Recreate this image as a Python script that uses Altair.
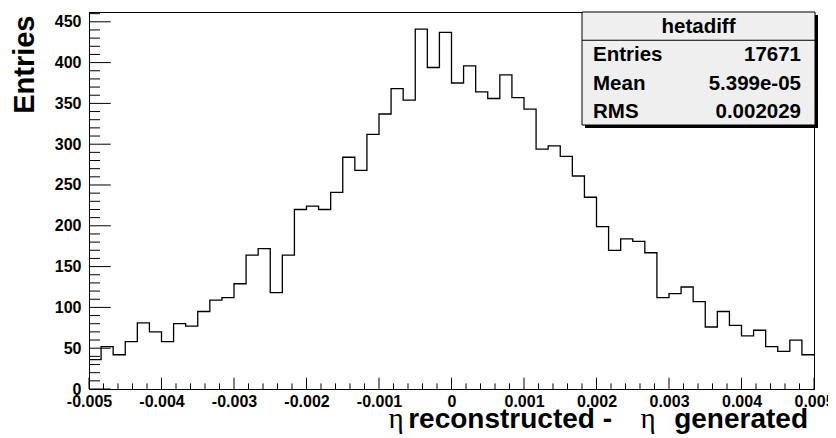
import altair as alt
import numpy as np
import pandas as pd

# ---------------- data ----------------
x_min, x_max, n_bins = -0.005, 0.005, 60
bin_counts = [36, 52, 42, 58, 81, 70, 58, 80, 77, 95,
              109, 112, 129, 164, 172, 118, 164, 220, 224, 220,
              241, 284, 268, 312, 337, 368, 354, 441, 394, 437,
              375, 396, 364, 356, 385, 357, 343, 294, 298, 285,
              261, 235, 199, 170, 184, 181, 167, 112, 117, 125,
              107, 76, 95, 78, 65, 72, 52, 46, 60, 42]
y_max = 462

y_major = [0, 50, 100, 150, 200, 250, 300, 350, 400, 450]
y_minor = [v for v in range(0, 461, 10) if v % 50 != 0]
x_major = [-0.005, -0.004, -0.003, -0.002, -0.001, 0.0, 0.001, 0.002, 0.003, 0.004, 0.005]
x_minor = [round(-0.005 + 0.0002 * i, 5) for i in range(51) if i % 5 != 0]

stats_title = "hetadiff"
stats_labels = ["Entries", "Mean", "RMS"]
stats_values = ["17671", "5.399e-05", "0.002029"]

x_title_parts = ["\u03b7", "reconstructed -", "\u03b7", "generated"]
y_title = "Entries"

# ---------------- layout ----------------
W, H = 725, 377
FONT = "Liberation Sans"

edges = np.linspace(x_min, x_max, n_bins + 1)
hist = pd.DataFrame({"x": edges, "count": bin_counts + [bin_counts[-1]]})

xscale = alt.Scale(domain=[x_min, x_max], nice=False, zero=False)
yscale = alt.Scale(domain=[0, y_max], nice=False, zero=False)

x_axis = alt.Axis(
    values=x_major,
    labelExpr="datum.value == 0 ? '0' : replace(format(datum.value, '.3f'), '\u2212', '-')",
    ticks=False, tickSize=0, labelPadding=4, labelFlush=False, labelOverlap=False,
    labelFont=FONT, labelFontSize=16, labelFontWeight="bold", labelColor="black",
    domainColor="black", grid=False, title=None,
)
y_axis = alt.Axis(
    values=y_major, ticks=False, tickSize=0, labelPadding=8, labelFlush=False,
    labelOverlap=False, labelFont=FONT, labelFontSize=16, labelFontWeight="bold",
    labelColor="black", domainColor="black", grid=False,
    title=y_title, titleFont=FONT, titleFontSize=29, titleFontWeight="bold",
    titleColor="black", titleAngle=270, titleAlign="right",
    titleBaseline="alphabetic", titleX=-56, titleY=3,
)

line = alt.Chart(hist).mark_line(
    interpolate="step-after", color="black", strokeWidth=1.3
).encode(
    x=alt.X("x:Q", scale=xscale, axis=x_axis, title=None),
    y=alt.Y("count:Q", scale=yscale, axis=y_axis, title=y_title),
)

# inward ticks (ROOT style)
def yticks(vals, length):
    return alt.Chart(pd.DataFrame({"v": vals})).mark_rule(color="black", strokeWidth=1).encode(
        y=alt.Y("v:Q", scale=yscale, axis=y_axis, title=y_title),
        x=alt.value(0), x2=alt.value(length),
    )

def xticks(vals, length):
    return alt.Chart(pd.DataFrame({"v": vals})).mark_rule(color="black", strokeWidth=1).encode(
        x=alt.X("v:Q", scale=xscale, axis=x_axis, title=None),
        y=alt.value(H), y2=alt.value(H - length),
    )

ticks = [yticks(y_major, 21.75), yticks(y_minor, 11),
         xticks(x_major, 11.3), xticks(x_minor, 5.6)]

# x-axis title (ROOT: Symbol-font eta + bold Helvetica text)
title_y = 416
bold_kw = dict(font=FONT, fontSize=28, fontWeight="bold", color="black", baseline="alphabetic")
eta_kw = dict(font="Liberation Serif", fontSize=29, fontWeight="normal", color="black",
              baseline="alphabetic", align="center")
xtitle_layers = [
    alt.Chart(pd.DataFrame({"t": [x_title_parts[0]]})).mark_text(**eta_kw).encode(
        text="t:N", x=alt.value(307), y=alt.value(title_y)),
    alt.Chart(pd.DataFrame({"t": [x_title_parts[1]]})).mark_text(align="right", **bold_kw).encode(
        text="t:N", x=alt.value(523), y=alt.value(title_y)),
    alt.Chart(pd.DataFrame({"t": [x_title_parts[2]]})).mark_text(**eta_kw).encode(
        text="t:N", x=alt.value(559), y=alt.value(title_y)),
    alt.Chart(pd.DataFrame({"t": [x_title_parts[3]]})).mark_text(align="right", **bold_kw).encode(
        text="t:N", x=alt.value(719), y=alt.value(title_y)),
]

# stats box
one = pd.DataFrame({"a": [0]})
bx0, bx1, by0, by1 = 493, 726, 0, 113
shadow = alt.Chart(one).mark_rect(color="black").encode(
    x=alt.value(bx0 + 3), x2=alt.value(bx1 + 3), y=alt.value(by0 + 3), y2=alt.value(by1 + 3))
box = alt.Chart(one).mark_rect(fill="#efefef", stroke="black", strokeWidth=1).encode(
    x=alt.value(bx0), x2=alt.value(bx1), y=alt.value(by0), y2=alt.value(by1))
row_h = (by1 - by0) / 4
sep = alt.Chart(one).mark_rule(color="black", strokeWidth=1).encode(
    x=alt.value(bx0), x2=alt.value(bx1), y=alt.value(by0 + row_h))

txt_kw = dict(font=FONT, fontSize=20.5, fontWeight="bold", color="black", baseline="alphabetic")
stats_layers = [shadow, box, sep,
                alt.Chart(pd.DataFrame({"t": [stats_title]})).mark_text(align="center", **txt_kw).encode(
                    text="t:N", x=alt.value((bx0 + bx1) / 2), y=alt.value(by0 + 0.5 * row_h + 7))]
for i, (lab, val) in enumerate(zip(stats_labels, stats_values)):
    yb = by0 + (i + 1.5) * row_h + 7
    stats_layers.append(alt.Chart(pd.DataFrame({"t": [lab]})).mark_text(align="left", **txt_kw).encode(
        text="t:N", x=alt.value(bx0 + 11), y=alt.value(yb)))
    stats_layers.append(alt.Chart(pd.DataFrame({"t": [val]})).mark_text(align="right", **txt_kw).encode(
        text="t:N", x=alt.value(bx1 - 14), y=alt.value(yb)))

chart = alt.layer(line, *ticks, *xtitle_layers, *stats_layers).properties(
    width=W, height=H,
    padding={"left": 81, "top": 4, "right": 14, "bottom": 47},
    autosize=alt.AutoSizeParams(type="none"),
    background="white",
).configure_view(stroke="black", strokeWidth=1)

chart.save("out.html", embed_options={"renderer": "svg", "actions": False})
